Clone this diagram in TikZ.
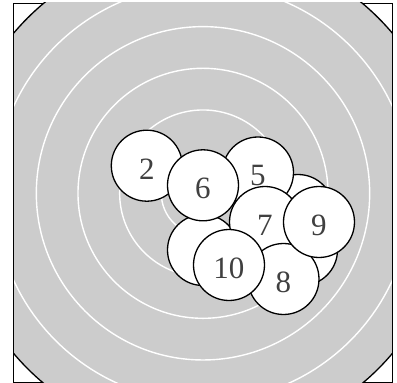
\documentclass[tikz,border=0pt]{standalone}
\usepackage{fontspec}
\setmainfont{Liberation Serif}
\usepackage{xcolor}
\usepackage{tikz}
\definecolor{target}{HTML}{CCCCCC}
\definecolor{numgray}{HTML}{404040}
\tikzset{
  frame/.style={draw=black, line width=1.3pt},
  disk/.style={fill=target, draw=black, line width=1.3pt},
  ring/.style={draw=white, line width=1.4pt},
  shot/.style={circle, draw=black, fill=white, line width=1.3pt, minimum size=71pt, inner sep=0pt,
               font=\fontsize{31}{31}\selectfont, text=numgray, text height=27pt, text depth=0pt},
}

\begin{document}
\begin{tikzpicture}[x=1pt, y=1pt]
  \useasboundingbox (-203,-189.7) rectangle (194,193.3);
  \draw[frame] (-189.5,-189.5) rectangle (189.5,189.5);
  % target face, clipped to the frame
  \begin{scope}
    \clip (-189.5,-190.5) rectangle (189.5,190.5);
    \path[disk] (0,0) circle[radius=248];
    \foreach \r in {1,...,5}
      \draw[ring] (0,0) circle[radius=41.67*\r];
  \end{scope}
  \draw[frame] (-189.5,-189.5) -- (-189.5,189.5);
  \draw[frame] (189.5,-189.5) -- (189.5,189.5);
  % shots, later ones on top
  \node[shot] (s1) at (95,-16.7) {};
  \node[shot] (s3) at (99,-56.7) {};
  \node[shot] (s4) at (0,-56.7) {};
  \node[shot] (s2) at (-56.2,27.6) {2};
  \node[shot] (s5) at (55,20.8) {5};
  \node[shot] (s6) at (0,8) {6};
  \node[shot] (s7) at (62,-28.7) {7};
  \node[shot] (s8) at (80.5,-85.7) {8};
  \node[shot] (s9) at (116,-28.7) {9};
  \node[shot] (s10) at (26,-71.7) {10};
\end{tikzpicture}
\end{document}
